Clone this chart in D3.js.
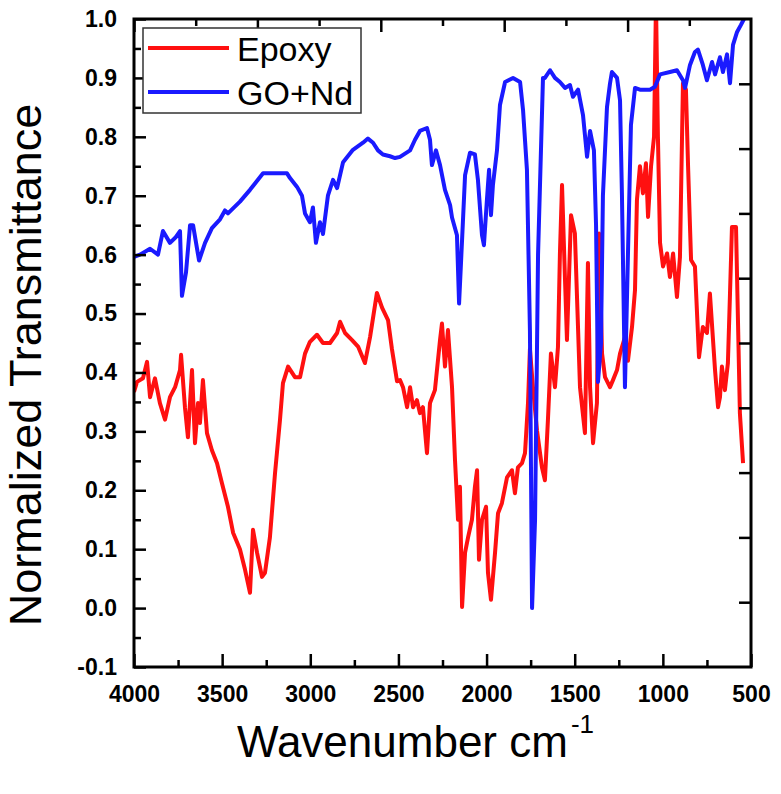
<!DOCTYPE html>
<html>
<head>
<meta charset="utf-8">
<script src="https://cdn.jsdelivr.net/npm/d3@7"></script>
<style>
  body { margin: 0; background: #fff; }
  text { font-family: Arial, "Liberation Sans", sans-serif; fill: #000; }
</style>
</head>
<body>
<div id="chart"></div>
<script>
// FTIR spectra (wavenumber in cm-1, normalized transmittance)
var epoxyWave = [4000, 3983, 3949, 3926, 3909, 3881, 3853, 3824, 3796, 3767, 3739, 3733, 3711, 3694, 3671, 3654,
  3637, 3626, 3609, 3586, 3558, 3529, 3501, 3467, 3438, 3399, 3370, 3342, 3325, 3302, 3274, 3257, 3229, 3200,
  3172, 3155, 3126, 3087, 3058, 3030, 3002, 2962, 2928, 2888, 2848, 2831, 2803, 2763, 2729, 2690, 2661, 2622,
  2593, 2559, 2537, 2508, 2491, 2474, 2451, 2434, 2417, 2395, 2378, 2361, 2338, 2321, 2293, 2264, 2253, 2236,
  2219, 2196, 2179, 2162, 2151, 2139, 2122, 2105, 2083, 2066, 2054, 2043, 2026, 2003, 1992, 1975, 1952, 1935,
  1913, 1884, 1856, 1839, 1822, 1799, 1782, 1765, 1754, 1737, 1714, 1686, 1669, 1652, 1635, 1612, 1595, 1584,
  1572, 1555, 1544, 1521, 1499, 1470, 1442, 1425, 1413, 1396, 1374, 1362, 1345, 1328, 1300, 1283, 1260, 1243,
  1215, 1198, 1175, 1158, 1147, 1130, 1113, 1096, 1084, 1067, 1050, 1039, 1028, 1016, 999, 976, 960, 942, 920,
  903, 886, 869, 857, 840, 818, 795, 773, 750, 733, 704, 687, 676, 665, 648, 631, 619, 608, 585, 574, 563, 551, 545];
var epoxyValues = [0.367, 0.384, 0.39, 0.418, 0.358, 0.39, 0.348, 0.32, 0.358, 0.375, 0.404, 0.43, 0.341, 0.29, 0.404, 0.28,
  0.348, 0.314, 0.387, 0.297, 0.268, 0.246, 0.212, 0.172, 0.128, 0.10, 0.065, 0.026, 0.133, 0.094, 0.053, 0.06, 0.12, 0.229,
  0.319, 0.382, 0.41, 0.392, 0.392, 0.432, 0.452, 0.464, 0.45, 0.45, 0.467, 0.486, 0.467, 0.455, 0.444, 0.416, 0.46, 0.535,
  0.51, 0.489, 0.44, 0.385, 0.387, 0.375, 0.341, 0.375, 0.341, 0.353, 0.331, 0.341, 0.263, 0.348, 0.37, 0.455, 0.483, 0.41,
  0.472, 0.375, 0.251, 0.15, 0.206, 0.002, 0.094, 0.12, 0.15, 0.206, 0.234, 0.082, 0.15, 0.172, 0.06, 0.014, 0.094, 0.161,
  0.178, 0.222, 0.234, 0.195, 0.239, 0.246, 0.263, 0.348, 0.44, 0.375, 0.302, 0.239, 0.217, 0.319, 0.432, 0.375, 0.443, 0.60,
  0.718, 0.557, 0.455, 0.667, 0.636, 0.375, 0.297, 0.586, 0.375, 0.28, 0.348, 0.636, 0.432, 0.392, 0.375, 0.387, 0.404, 0.432,
  0.46, 0.42, 0.477, 0.54, 0.693, 0.75, 0.704, 0.755, 0.664, 0.75, 0.80, 1.03, 0.80, 0.62, 0.58, 0.602, 0.562, 0.602, 0.528,
  0.596, 0.891, 0.88, 0.75, 0.591, 0.58, 0.426, 0.477, 0.467, 0.534, 0.404, 0.341, 0.358, 0.41, 0.37, 0.416, 0.535, 0.647, 0.647,
  0.489, 0.331, 0.274, 0.246];

var goWave = [4000, 3966, 3909, 3864, 3836, 3796, 3762, 3739, 3728, 3705, 3682, 3665, 3631, 3597, 3558, 3512, 3484,
  3467, 3399, 3342, 3268, 3132, 3115, 3075, 3047, 3030, 3002, 2985, 2968, 2945, 2928, 2900, 2871, 2848, 2814,
  2758, 2701, 2673, 2644, 2616, 2588, 2548, 2519, 2491, 2434, 2406, 2378, 2338, 2321, 2310, 2287, 2264, 2236,
  2207, 2196, 2168, 2156, 2139, 2122, 2094, 2066, 2049, 2026, 2015, 1998, 1986, 1975, 1964, 1941, 1924, 1895,
  1850, 1810, 1793, 1771, 1754, 1742, 1725, 1708, 1680, 1669, 1640, 1612, 1584, 1555, 1527, 1510, 1481, 1453,
  1430, 1413, 1391, 1379, 1368, 1351, 1340, 1317, 1300, 1289, 1260, 1243, 1232, 1215, 1198, 1181, 1158, 1130,
  1073, 1045, 1016, 960, 920, 886, 874, 846, 818, 801, 773, 750, 721, 704, 676, 659, 636, 619, 602, 579, 557, 540];
var goValues = [0.596, 0.60, 0.61, 0.60, 0.64, 0.62, 0.63, 0.64, 0.53, 0.57, 0.65, 0.65, 0.59, 0.62, 0.645, 0.66, 0.675,
  0.67, 0.69, 0.71, 0.738, 0.738, 0.73, 0.715, 0.70, 0.67, 0.655, 0.68, 0.62, 0.655, 0.635, 0.70, 0.727, 0.713, 0.757,
  0.778, 0.79, 0.797, 0.79, 0.777, 0.77, 0.767, 0.764, 0.766, 0.777, 0.795, 0.81, 0.815, 0.795, 0.752, 0.777, 0.752, 0.71,
  0.684, 0.663, 0.633, 0.517, 0.625, 0.735, 0.773, 0.77, 0.727, 0.633, 0.616, 0.693, 0.744, 0.667, 0.718, 0.777, 0.854, 0.893,
  0.90, 0.893, 0.845, 0.744, 0.47, 0.0, 0.15, 0.6, 0.9, 0.90, 0.913, 0.90, 0.893, 0.883, 0.888, 0.868, 0.88, 0.837,
  0.766, 0.81, 0.777, 0.65, 0.384, 0.45, 0.7, 0.85, 0.89, 0.91, 0.90, 0.862, 0.7, 0.375, 0.6, 0.82, 0.883, 0.88,
  0.88, 0.885, 0.906, 0.91, 0.913, 0.896, 0.883, 0.922, 0.944, 0.948, 0.922, 0.896, 0.927, 0.906, 0.935, 0.91, 0.94, 0.891,
  0.956, 0.978, 0.99, 1.0];

var seriesNames = ["Epoxy", "GO+Nd"];
var seriesColors = ["#ff1010", "#1a1aff"];

var xTicks = [4000, 3500, 3000, 2500, 2000, 1500, 1000, 500];
var xTickLabels = ["4000", "3500", "3000", "2500", "2000", "1500", "1000", "500"];
var xMinorTicks = [3750, 3250, 2750, 2250, 1750, 1250, 750];
var yTicks = [-0.1, 0.0, 0.1, 0.2, 0.3, 0.4, 0.5, 0.6, 0.7, 0.8, 0.9, 1.0];
var yTickLabels = ["-0.1", "0.0", "0.1", "0.2", "0.3", "0.4", "0.5", "0.6", "0.7", "0.8", "0.9", "1.0"];
var yMinorTicks = [-0.05, 0.05, 0.15, 0.25, 0.35, 0.45, 0.55, 0.65, 0.75, 0.85, 0.95];
// the opposite axes carry their own tick spacing in the original plot
var topMajorTicks = [4000, 3300, 2600, 1900, 1200];
var topMinorTicks = [3650, 2950, 2250, 1550, 850];
var rightTicks = [0.01, 0.12, 0.23, 0.34, 0.45, 0.56, 0.67, 0.78, 0.89];

var svgWidth = 781;
var svgHeight = 794;

var margin = {
  top: 19,
  right: 30,
  bottom: 127,
  left: 134
};

var width = svgWidth - margin.left - margin.right;
var height = svgHeight - margin.top - margin.bottom;

var svg = d3.select("#chart")
  .append("svg")
  .attr("width", svgWidth)
  .attr("height", svgHeight);

var chartGroup = svg.append("g")
  .attr("transform", `translate(${margin.left}, ${margin.top})`);

var xScale = d3.scaleLinear()
  .domain([4000, 500])
  .range([0, width]);

var yScale = d3.scaleLinear()
  .domain([-0.1, 1.0])
  .range([height, 0]);

chartGroup.append("clipPath")
  .attr("id", "plot-clip")
  .append("rect")
  .attr("width", width)
  .attr("height", height);

// spectra
var series = [
  { name: seriesNames[0], color: seriesColors[0], points: epoxyWave.map((w, i) => [w, epoxyValues[i]]) },
  { name: seriesNames[1], color: seriesColors[1], points: goWave.map((w, i) => [w, goValues[i]]) }
];

var line = d3.line()
  .x(d => xScale(d[0]))
  .y(d => yScale(d[1]));

chartGroup.append("g")
  .attr("clip-path", "url(#plot-clip)")
  .selectAll("path")
  .data(series)
  .enter()
  .append("path")
  .attr("d", d => line(d.points))
  .attr("fill", "none")
  .attr("stroke", d => d.color)
  .attr("stroke-width", 4)
  .attr("stroke-linejoin", "round");

// axes (ticks point into the plot)
function styleAxis(g) {
  g.select(".domain").remove();
  g.selectAll(".tick line").attr("stroke", "#000").attr("stroke-width", 2.5);
  g.selectAll(".tick text")
    .style("font-size", "23px")
    .style("font-weight", "bold");
}

chartGroup.append("g")
  .attr("transform", `translate(0, ${height})`)
  .call(d3.axisBottom(xScale).tickValues(xTicks).tickSize(-13).tickPadding(19)
    .tickFormat((d, i) => xTickLabels[i]))
  .call(styleAxis);

chartGroup.append("g")
  .attr("transform", `translate(0, ${height})`)
  .call(d3.axisBottom(xScale).tickValues(xMinorTicks).tickSize(-7).tickFormat(""))
  .call(styleAxis);

chartGroup.append("g")
  .call(d3.axisLeft(yScale).tickValues(yTicks).tickSize(-12).tickPadding(17)
    .tickFormat((d, i) => yTickLabels[i]))
  .call(styleAxis);

chartGroup.append("g")
  .call(d3.axisLeft(yScale).tickValues(yMinorTicks).tickSize(-7).tickFormat(""))
  .call(styleAxis);

chartGroup.append("g")
  .call(d3.axisTop(xScale).tickValues(topMajorTicks).tickSize(-13).tickFormat(""))
  .call(styleAxis);

chartGroup.append("g")
  .call(d3.axisTop(xScale).tickValues(topMinorTicks).tickSize(-7).tickFormat(""))
  .call(styleAxis);

chartGroup.append("g")
  .attr("transform", `translate(${width}, 0)`)
  .call(d3.axisRight(yScale).tickValues(rightTicks).tickSize(-12).tickFormat(""))
  .call(styleAxis);

// frame
chartGroup.append("rect")
  .attr("width", width)
  .attr("height", height)
  .attr("fill", "none")
  .attr("stroke", "#000")
  .attr("stroke-width", 3);

// legend
var legend = chartGroup.append("g")
  .attr("transform", "translate(9, 9)");

legend.append("rect")
  .attr("width", 218)
  .attr("height", 85)
  .attr("fill", "#fff")
  .attr("stroke", "#333")
  .attr("stroke-width", 1.5);

var legendItems = legend.selectAll(".legend-item")
  .data(series)
  .enter()
  .append("g")
  .attr("class", "legend-item")
  .attr("transform", (d, i) => `translate(0, ${20 + i * 44})`);

legendItems.append("line")
  .attr("x1", 5)
  .attr("x2", 86)
  .attr("stroke", d => d.color)
  .attr("stroke-width", 4);

legendItems.append("text")
  .attr("x", 94)
  .attr("y", 13)
  .style("font-size", "34px")
  .text(d => d.name);

// axis titles
var xTitle = svg.append("text")
  .attr("x", 237)
  .attr("y", 757)
  .style("font-size", "44px");
xTitle.append("tspan").text("Wavenumber cm");
xTitle.append("tspan")
  .attr("dx", 3)
  .attr("dy", -24)
  .style("font-size", "26px")
  .text("-1");

svg.append("text")
  .attr("transform", "translate(41, 365) rotate(-90)")
  .attr("text-anchor", "middle")
  .style("font-size", "45px")
  .text("Normalized Transmittance");
</script>
</body>
</html>
